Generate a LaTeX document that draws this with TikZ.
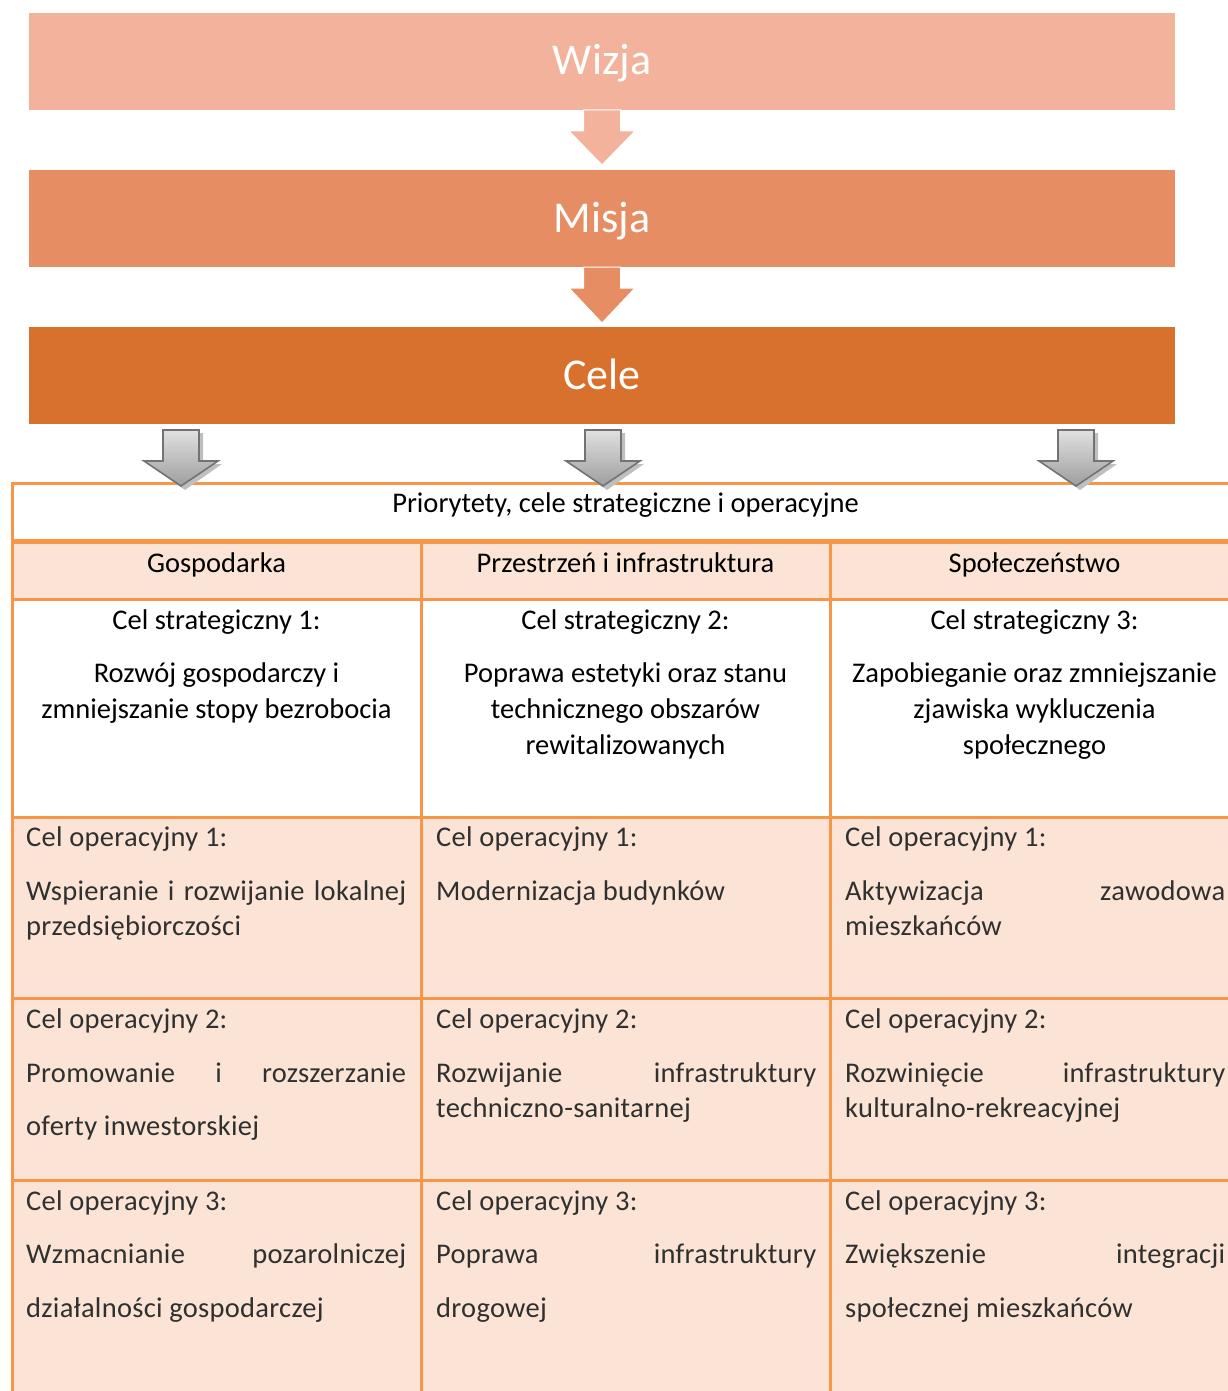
\documentclass[tikz,border=0pt]{standalone}
\usepackage{fontspec}
\setmainfont{Carlito}
\newfontfamily\opfont[LetterSpace=1.0]{Carlito}
\usetikzlibrary{calc}
\definecolor{wiz}{HTML}{F2B29B}
\definecolor{mis}{HTML}{E68D63}
\definecolor{cel}{HTML}{D8712D}
\definecolor{tbl}{HTML}{F79646}
\definecolor{peach}{HTML}{FBE4D5}
\definecolor{optxt}{HTML}{303030}
\tikzset{
  bigbox/.style={inner sep=0pt},
  bigtxt/.style={anchor=base,text=white,font=\fontsize{44}{50}\selectfont},
  hdr/.style={anchor=base,font=\fontsize{28.5}{34}\selectfont},
  optext/.style={anchor=base west,inner sep=0pt,text=optxt,font=\opfont\fontsize{28.5}{34}\selectfont},
  grid/.style={draw=tbl,line width=3pt},
  grayarrow/.style={draw=black!55,line width=1.6pt,top color=black!12,bottom color=black!38,line join=miter},
}
\newcommand{\flowarrow}[4]{% color, x center, top y, tip y
  \fill[#1,draw=white,line width=1pt] (#2-18.5,#3) -- (#2+18.5,#3) -- (#2+18.5,#3+21) -- (#2+33,#3+21) -- (#2,#4) -- (#2-33,#3+21) -- (#2-18.5,#3+21) -- cycle;}
\newcommand{\grayarr}[1]{%
  \fill[black!25] (#1-18+4,433) -- (#1+18+4,433) -- (#1+18+4,464) -- (#1+37+4,464) -- (#1+4,490) -- (#1-37+4,464) -- (#1-18+4,464) -- cycle;
  \path[grayarrow] (#1-18,430) -- (#1+18,430) -- (#1+18,461) -- (#1+37,461) -- (#1,486) -- (#1-37,461) -- (#1-18,461) -- cycle;}
\begin{document}
\begin{tikzpicture}[x=1pt,y=-1pt]
\useasboundingbox (0,0) rectangle (1227,1391);
% top boxes
\fill[wiz] (29,13) rectangle (1175,110);
\node[bigtxt] (wizja) at (602,75) {Wizja};
\fill[mis] (29,170) rectangle (1175,267);
\node[bigtxt] (misja) at (602,232) {Misja};
\fill[cel] (29,327) rectangle (1175,424);
\node[bigtxt] (cele) at (602,389) {Cele};
\flowarrow{wiz}{602}{110}{165}
\flowarrow{mis}{602}{267}{323}
% table fills
\fill[peach] (12,541) rectangle (1239,599);
\fill[peach] (12,817) rectangle (1239,1391);
% grid
\draw[grid] (12,1395) -- (12,483) -- (1239,483);
\draw[grid,line width=5pt] (10.5,541) -- (1239,541);
\foreach \yy in {599,817,998,1180} \draw[grid] (10.5,\yy) -- (1239,\yy);
\foreach \xx in {421,830} \draw[grid] (\xx,541) -- (\xx,1395);
% gray arrows
\grayarr{181}
\grayarr{603}
\grayarr{1076}
% title
\node[hdr] (title) at (625.5,512) {Priorytety, cele strategiczne i operacyjne};
% headers
\node[hdr] (h1) at (216.5,572) {Gospodarka};
\node[hdr] (h2) at (625.5,572) {Przestrzeń i infrastruktura};
\node[hdr] (h3) at (1034.5,572) {Społeczeństwo};
% strategic
\node[hdr] (s1a) at (216.5,629) {Cel strategiczny 1:};
\node[hdr] (s1b) at (216.5,682) {Rozwój gospodarczy i};
\node[hdr] (s1c) at (216.5,718) {zmniejszanie stopy bezrobocia};
\node[hdr] (s2a) at (625.5,629) {Cel strategiczny 2:};
\node[hdr] (s2b) at (625.5,682) {Poprawa estetyki oraz stanu};
\node[hdr] (s2c) at (625.5,718) {technicznego obszarów};
\node[hdr] (s2d) at (625.5,754) {rewitalizowanych};
\node[hdr] (s3a) at (1034.5,629) {Cel strategiczny 3:};
\node[hdr] (s3b) at (1034.5,682) {Zapobieganie oraz zmniejszanie};
\node[hdr] (s3c) at (1034.5,718) {zjawiska wykluczenia};
\node[hdr] (s3d) at (1034.5,754) {społecznego};
% operational row 1
\node[optext] (o11) at (26,846) {Cel operacyjny 1:};
\node[optext] (o11a) at (26,900) {\hbox to 380pt{Wspieranie\hfil\ i\hfil\ rozwijanie\hfil\ lokalnej}};
\node[optext] (o11b) at (26,935) {przedsiębiorczości};
\node[optext] (o21) at (436,846) {Cel operacyjny 1:};
\node[optext] (o21a) at (436,900) {Modernizacja budynków};
\node[optext] (o31) at (845,846) {Cel operacyjny 1:};
\node[optext] (o31a) at (845,900) {\hbox to 380pt{Aktywizacja\hfil zawodowa}};
\node[optext] (o31b) at (845,935) {mieszkańców};
% operational row 2
\node[optext] (o12) at (26,1028) {Cel operacyjny 2:};
\node[optext] (o12a) at (26,1082) {\hbox to 380pt{Promowanie\hfil i\hfil rozszerzanie}};
\node[optext] (o12b) at (26,1135) {oferty inwestorskiej};
\node[optext] (o22) at (436,1028) {Cel operacyjny 2:};
\node[optext] (o22a) at (436,1082) {\hbox to 380pt{Rozwijanie\hfil infrastruktury}};
\node[optext] (o22b) at (436,1117) {techniczno-sanitarnej};
\node[optext] (o32) at (845,1028) {Cel operacyjny 2:};
\node[optext] (o32a) at (845,1082) {\hbox to 380pt{Rozwinięcie\hfil infrastruktury}};
\node[optext] (o32b) at (845,1117) {kulturalno-rekreacyjnej};
% operational row 3
\node[optext] (o13) at (26,1210) {Cel operacyjny 3:};
\node[optext] (o13a) at (26,1263) {\hbox to 380pt{Wzmacnianie\hfil pozarolniczej}};
\node[optext] (o13b) at (26,1317) {działalności gospodarczej};
\node[optext] (o23) at (436,1210) {Cel operacyjny 3:};
\node[optext] (o23a) at (436,1263) {\hbox to 380pt{Poprawa\hfil infrastruktury}};
\node[optext] (o23b) at (436,1317) {drogowej};
\node[optext] (o33) at (845,1210) {Cel operacyjny 3:};
\node[optext] (o33a) at (845,1263) {\hbox to 380pt{Zwiększenie\hfil integracji}};
\node[optext] (o33b) at (845,1317) {społecznej mieszkańców};
\end{tikzpicture}
\end{document}
